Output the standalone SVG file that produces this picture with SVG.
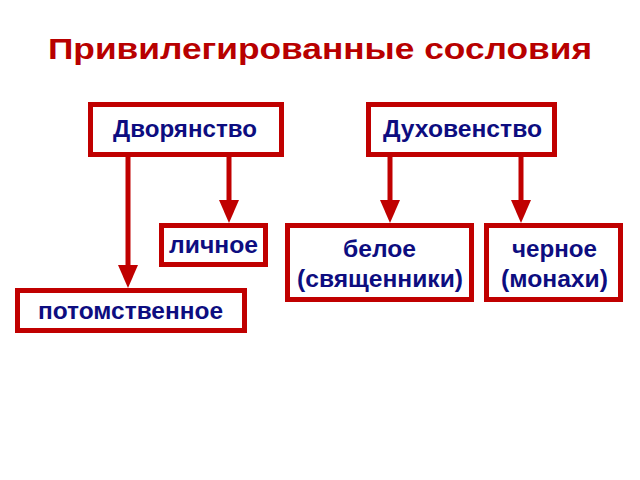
<svg xmlns="http://www.w3.org/2000/svg" width="640" height="480" viewBox="0 0 640 480">
<defs>
<style>
.box{fill:#fff;stroke:#c00000;stroke-width:5}
.lbl{font-family:"Liberation Sans",Arial,sans-serif;font-weight:bold;font-size:23px;fill:#0d0d80;text-anchor:middle}
.title{font-family:"Liberation Sans",Arial,sans-serif;font-weight:bold;font-size:30px;fill:#b80000;text-anchor:middle}
.conn{stroke:#c00000;stroke-width:5;fill:none}
.head{fill:#c00000}
</style>
</defs>
<rect width="640" height="480" fill="#fff"/>
<text class="title" x="320" y="59" textLength="544" lengthAdjust="spacingAndGlyphs">Привилегированные сословия</text>
<g id="connectors">
<line class="conn" x1="128" y1="157" x2="128" y2="268"/>
<polygon class="head" points="118,265 138,265 128,288"/>
<line class="conn" x1="229" y1="157" x2="229" y2="203"/>
<polygon class="head" points="219,200 239,200 229,223"/>
<line class="conn" x1="390" y1="157" x2="390" y2="203"/>
<polygon class="head" points="380,200 400,200 390,223"/>
<line class="conn" x1="521" y1="157" x2="521" y2="203"/>
<polygon class="head" points="511,200 531,200 521,223"/>
</g>
<g id="dvoryanstvo">
<rect class="box" x="90.5" y="104.5" width="191" height="50"/>
<text class="lbl" x="185" y="137" textLength="144" lengthAdjust="spacingAndGlyphs">Дворянство</text>
</g>
<g id="duhovenstvo">
<rect class="box" x="368.5" y="104.5" width="186" height="50"/>
<text class="lbl" x="462.5" y="137" textLength="159" lengthAdjust="spacingAndGlyphs">Духовенство</text>
</g>
<g id="lichnoe">
<rect class="box" x="161.5" y="225.5" width="104" height="39"/>
<text class="lbl" x="213.5" y="253" textLength="89" lengthAdjust="spacingAndGlyphs">личное</text>
</g>
<g id="potomstvennoe">
<rect class="box" x="17.5" y="290.5" width="227" height="40"/>
<text class="lbl" x="130.5" y="319" textLength="185" lengthAdjust="spacingAndGlyphs">потомственное</text>
</g>
<g id="beloe">
<rect class="box" x="287.5" y="225.5" width="184" height="74"/>
<text class="lbl" x="379.5" y="257" textLength="73" lengthAdjust="spacingAndGlyphs">белое</text>
<text class="lbl" x="380" y="287" textLength="166" lengthAdjust="spacingAndGlyphs">(священники)</text>
</g>
<g id="chernoe">
<rect class="box" x="486.5" y="225.5" width="134" height="74"/>
<text class="lbl" x="554.5" y="257" textLength="85" lengthAdjust="spacingAndGlyphs">черное</text>
<text class="lbl" x="554.5" y="287" textLength="107" lengthAdjust="spacingAndGlyphs">(монахи)</text>
</g>
</svg>
